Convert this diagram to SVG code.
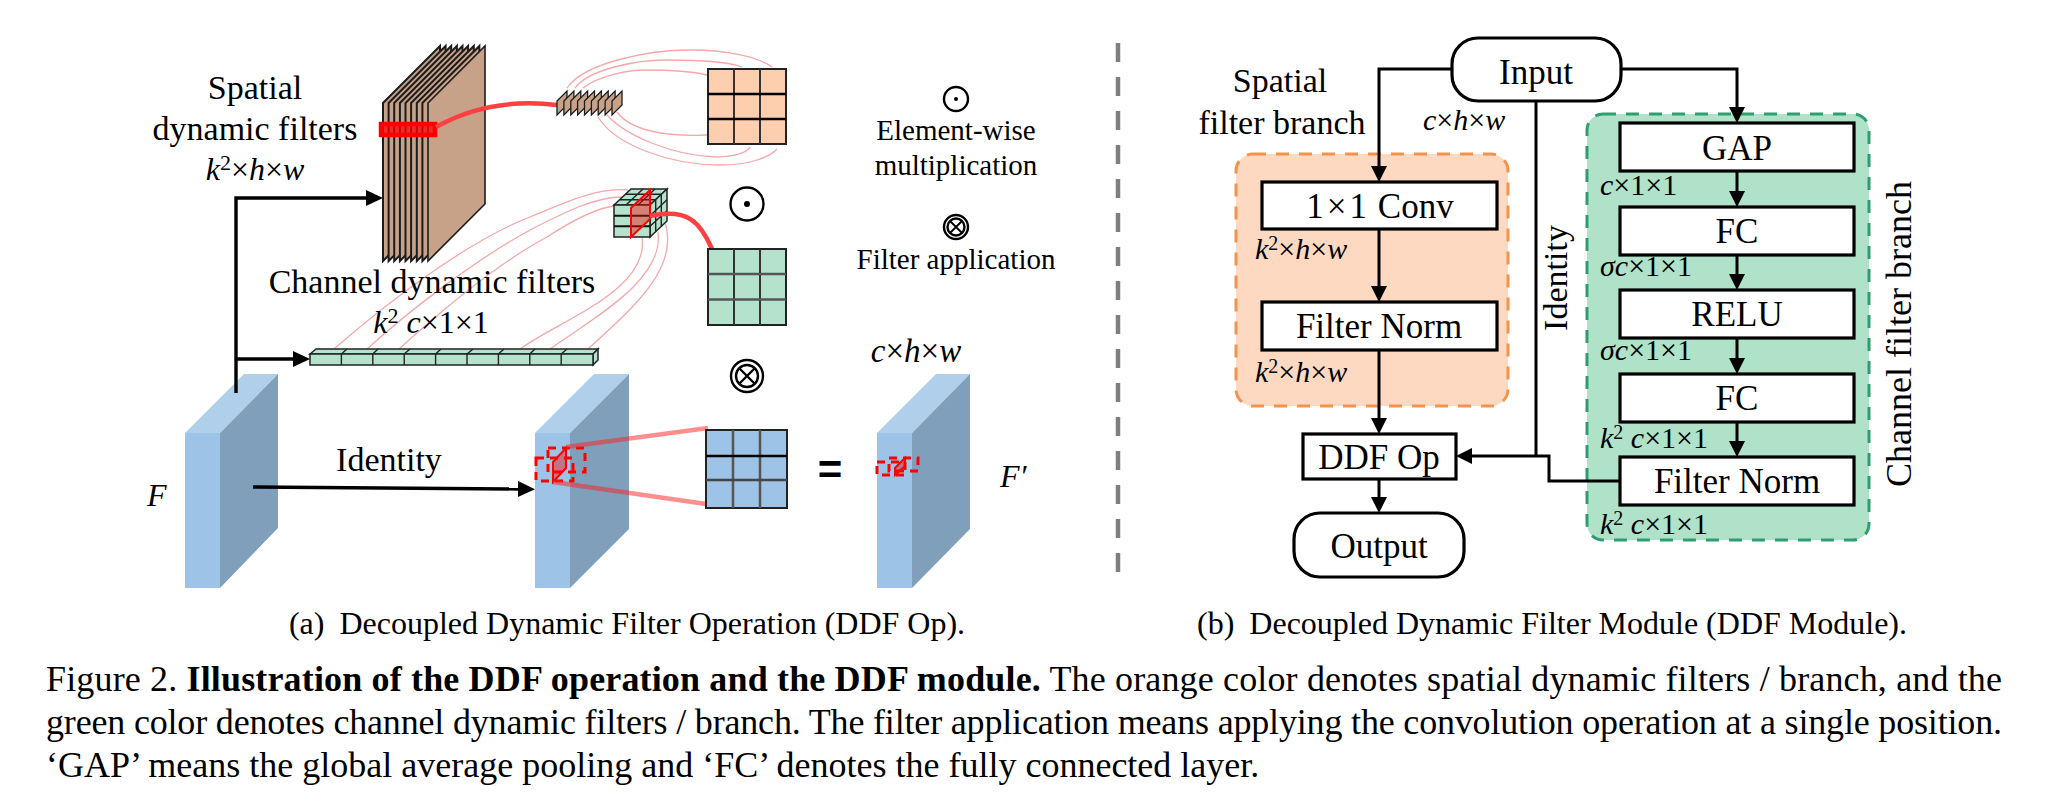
<svg xmlns="http://www.w3.org/2000/svg" width="2046" height="809" viewBox="0 0 2046 809">
<style>
text{font-family:"Liberation Serif","Times New Roman",serif;fill:#000}
.t34{font-size:34px}.t35{font-size:35px}.t36{font-size:36px}.t33{font-size:33px}.t32{font-size:32px}.t29{font-size:29px}.t30{font-size:30px}.cap{font-size:36px}
.m{text-anchor:middle}
.i{font-style:italic}
.b{font-weight:bold}
.sheet{fill:#c8a288;stroke:#1c1c1c;stroke-width:2;stroke-linejoin:miter}
.small{fill:#c8a288;stroke:#1c1c1c;stroke-width:1.3}
.pink{fill:none;stroke:#f4a8a8;stroke-width:1.3}
.redc{fill:none;stroke:#ff4040;stroke-width:4.5}
.wedge{stroke:#ff2020;stroke-opacity:.5;stroke-width:4.5;fill:none}
.bl-f{fill:#9dc3e6}.bl-t{fill:#b0cfeb}.bl-s{fill:#7f9fbb}
.gl{stroke:#333;stroke-width:2;fill:none}
.hl{stroke:#000;stroke-width:2.5}
.ggrid{fill:#b4e2cc;stroke:#222;stroke-width:2}
.ogrid{fill:#fdcfae;stroke:#222;stroke-width:2}
.bgrid{fill:#9dc3e6;stroke:#222;stroke-width:2}
.cell{fill:#b4e2cc;stroke:#222;stroke-width:1.5}
.thin{stroke:#222;stroke-width:1.4;fill:none}
.dash{fill:none;stroke:#ff0000;stroke-width:3;stroke-dasharray:8 6}
.plane{fill:#ff0000;fill-opacity:.42;stroke:#ff0000;stroke-width:2}
.ring{fill:none;stroke:#000;stroke-width:2.4}
.box{fill:#fff;stroke:#000;stroke-width:3.2}
.a3{fill:none;stroke:#000;stroke-width:3.4}
.b3{fill:none;stroke:#000;stroke-width:3}
</style>
<defs>
<marker id="hA" markerUnits="userSpaceOnUse" markerWidth="18" markerHeight="18" refX="0" refY="9" orient="auto" viewBox="0 0 18 18"><path d="M0,1 L17,9 L0,17 Z" fill="#000"/></marker>
<marker id="hB" markerUnits="userSpaceOnUse" markerWidth="17" markerHeight="18" refX="0" refY="9" orient="auto" viewBox="0 0 17 18"><path d="M0,1 L16,9 L0,17 Z" fill="#000"/></marker>
</defs>
<rect width="2046" height="809" fill="#fff"/>

<g id="pink-lines">
<path class="pink" d="M567,88 C585,62 650,50 690,50 C730,50 760,58 772,67"/>
<path class="pink" d="M575,88 C590,68 640,60 665,60 C700,60 730,62 742,67"/>
<path class="pink" d="M583,88 C600,75 630,70 645,70 C670,70 695,72 707,75"/>
<path class="pink" d="M617,112 C630,130 665,137 707,135"/>
<path class="pink" d="M607,115 C625,135 670,155 715,157 C735,157 748,152 750,147"/>
<path class="pink" d="M598,117 C615,145 670,165 720,165 C750,165 770,157 777,149"/>
<path class="pink" d="M334,349 C390,300 470,240 530,217 C570,200 600,187 628,190"/>
<path class="pink" d="M367,349 C410,310 475,260 530,230 C565,212 595,197 622,197"/>
<path class="pink" d="M399,349 C440,312 500,262 547,237 C570,222 595,208 615,206"/>
<path class="pink" d="M520,349 C560,320 650,290 642,237"/>
<path class="pink" d="M550,349 C590,320 665,280 658,232"/>
<path class="pink" d="M588,349 C630,310 680,270 665,222"/>
</g>

<g id="spatial-filters">
<polygon class="sheet" points="383,103 440,46 440,204 383,261"/>
<polygon class="sheet" points="388.6,103 445.6,46 445.6,204 388.6,261"/>
<polygon class="sheet" points="394.2,103 451.2,46 451.2,204 394.2,261"/>
<polygon class="sheet" points="399.9,103 456.9,46 456.9,204 399.9,261"/>
<polygon class="sheet" points="405.5,103 462.5,46 462.5,204 405.5,261"/>
<polygon class="sheet" points="411.1,103 468.1,46 468.1,204 411.1,261"/>
<polygon class="sheet" points="416.8,103 473.8,46 473.8,204 416.8,261"/>
<polygon class="sheet" points="422.4,103 479.4,46 479.4,204 422.4,261"/>
<polygon class="sheet" points="428,103 485,46 485,204 428,261" style="stroke-width:1.6"/>
<rect x="381" y="124" width="54" height="11" fill="#ff0000" fill-opacity=".75" stroke="#ff0000" stroke-width="4.5"/>
<path class="redc" d="M436,127 C475,105 515,100 557,105"/>
<polygon class="small" points="557,101 567,91 567,105 557,115"/>
<polygon class="small" points="563.9,101 573.9,91 573.9,105 563.9,115"/>
<polygon class="small" points="570.8,101 580.8,91 580.8,105 570.8,115"/>
<polygon class="small" points="577.6,101 587.6,91 587.6,105 577.6,115"/>
<polygon class="small" points="584.5,101 594.5,91 594.5,105 584.5,115"/>
<polygon class="small" points="591.4,101 601.4,91 601.4,105 591.4,115"/>
<polygon class="small" points="598.2,101 608.2,91 608.2,105 598.2,115"/>
<polygon class="small" points="605.1,101 615.1,91 615.1,105 605.1,115"/>
<polygon class="small" points="612,101 622,91 622,105 612,115"/>
</g>

<g id="orange-grid">
<rect class="ogrid" x="708" y="69" width="78" height="75"/>
<path class="gl" d="M734,69V144M760,69V144"/>
<path class="hl" d="M708,94H786M708,119H786"/>
</g>

<g id="cube">
<polygon class="cell" points="614,205 631,189 667,189 650,205"/>
<polygon class="cell" points="650,205 667,189 667,221 650,237"/>
<rect class="cell" x="614" y="205" width="36" height="32"/>
<path class="thin" d="M626,205L643,189M638,205L655,189M619.7,199.7H655.7M625.3,194.3H661.3M655.7,199.7V231.7M661.3,194.3V226.3M650,215.7L667,199.7M650,226.3L667,210.7"/>
<path d="M614,215.7H650M614,226.3H650" stroke="#111" stroke-width="2" fill="none"/>
<polygon class="plane" points="631,237 631,208 650,190 650,219"/>
<path class="redc" d="M650,216 C688,208 700,222 712,249"/>
</g>

<g id="green-grid">
<rect class="ggrid" x="708" y="249" width="78" height="76"/>
<path class="gl" d="M734,249V325M760,249V325"/>
<path d="M708,274H786M708,299.5H786" stroke="#555" stroke-width="2.5"/>
</g>

<g id="channel-bar">
<polygon class="cell" points="310,354 316,349 598,349 593,354"/>
<polygon class="cell" points="593,354 598,349 598,360 593,365"/>
<rect class="cell" x="310" y="354" width="283" height="11"/>
<path class="thin" d="M341.4,354V365M372.8,354V365M404.2,354V365M435.6,354V365M467,354V365M498.4,354V365M529.8,354V365M561.2,354V365M341.4,354L347,349M372.8,354L378,349M404.2,354L410,349M435.6,354L441,349M467,354L473,349M498.4,354L504,349M529.8,354L535,349M561.2,354L567,349"/>
</g>

<g id="feature-F">
<polygon class="bl-t" points="185,433 244,374 278,374 220,433"/>
<polygon class="bl-s" points="220,433 278,374 278,528 220,588"/>
<rect class="bl-f" x="185" y="433" width="35" height="155"/>
</g>
<g id="feature-mid">
<polygon class="bl-t" points="535,433 594,374 629,374 570,433"/>
<polygon class="bl-s" points="570,433 629,374 629,529 570,588"/>
<rect class="bl-f" x="535" y="433" width="35" height="155"/>
<rect class="dash" x="536" y="458" width="37" height="23"/>
<rect class="dash" x="548" y="448" width="37" height="24"/>
<polygon class="plane" points="553,482 553,462 566,448 566,468"/>
<path class="wedge" d="M566,447 L708,428"/>
<path class="wedge" d="M553,482 L720,506"/>
</g>
<g id="blue-grid">
<rect class="bgrid" x="706" y="430" width="81" height="78"/>
<path d="M733,430V508M760,430V508" stroke="#555" stroke-width="2.5"/>
<path class="hl" d="M706,456H787"/>
<path d="M706,480H787" stroke="#444" stroke-width="2.5"/>
</g>
<g id="feature-out">
<polygon class="bl-t" points="877,433 936,374 970,374 912,433"/>
<polygon class="bl-s" points="912,433 970,374 970,529 912,588"/>
<rect class="bl-f" x="877" y="433" width="35" height="155"/>
<rect class="dash" x="877" y="462" width="28" height="13"/>
<rect class="dash" x="889" y="458" width="29" height="13"/>
<polygon class="plane" points="895,475 895,468 905,458 905,466"/>
</g>

<g id="operators">
<circle class="ring" cx="747" cy="204" r="16.5"/><circle cx="747" cy="204" r="3"/>
<circle class="ring" cx="747" cy="376" r="16"/><circle class="ring" cx="747" cy="376" r="11"/>
<path class="ring" d="M739,368L755,384M755,368L739,384"/>
<circle class="ring" cx="956" cy="99" r="12"/><circle cx="956" cy="99" r="2"/>
<circle class="ring" cx="956" cy="227" r="12"/><circle class="ring" cx="956" cy="227" r="8.5"/>
<path class="ring" d="M950,221L962,233M962,221L950,233" style="stroke-width:1.8"/>
</g>

<g id="divider"><path d="M1118,43V575" stroke="#7f7f7f" stroke-width="4.5" stroke-dasharray="19 15" fill="none"/></g>

<g id="region-spatial"><rect x="1236" y="154" width="272" height="252" rx="17" fill="#fdd9c2" stroke="#f4934d" stroke-width="3" stroke-dasharray="13 10"/></g>
<g id="region-channel"><rect x="1587" y="114" width="282" height="426" rx="16" fill="#b0e2ca" stroke="#2f9e6e" stroke-width="3" stroke-dasharray="13 10"/></g>

<g id="connectors">
<path class="a3" d="M236,393V198H366" marker-end="url(#hA)"/>
<path class="a3" d="M236,359H293" marker-end="url(#hA)"/>
<path class="a3" d="M253,487L518,489" marker-end="url(#hA)"/>
<path class="b3" d="M1451,69H1379V166" marker-end="url(#hB)"/>
<path class="b3" d="M1621,69H1737V107" marker-end="url(#hB)"/>
<path class="b3" d="M1379,229V286" marker-end="url(#hB)"/>
<path class="b3" d="M1379,350V418" marker-end="url(#hB)"/>
<path class="b3" d="M1379,479V497" marker-end="url(#hB)"/>
<path class="b3" d="M1737,171V191" marker-end="url(#hB)"/>
<path class="b3" d="M1737,255V274" marker-end="url(#hB)"/>
<path class="b3" d="M1737,338V358" marker-end="url(#hB)"/>
<path class="b3" d="M1737,422V441" marker-end="url(#hB)"/>
<path class="b3" d="M1536,101V456"/>
<path class="b3" d="M1620,481H1549V456H1472" marker-end="url(#hB)"/>
</g>

<g id="node-input"><rect class="box" x="1452" y="38" width="169" height="63" rx="26"/><text class="t35 m" x="1536" y="84">Input</text></g>
<g id="node-conv"><rect class="box" x="1262" y="182" width="235" height="47"/><text class="t35 m" x="1380" y="218">1<tspan dx="3">×</tspan><tspan dx="3">1</tspan> <tspan dx="2">Conv</tspan></text></g>
<g id="node-fn1"><rect class="box" x="1262" y="302" width="235" height="48"/><text class="t35 m" x="1379" y="338">Filter Norm</text></g>
<g id="node-ddf"><rect class="box" x="1303" y="434" width="153" height="45"/><text class="t35 m" x="1379" y="469">DDF Op</text></g>
<g id="node-output"><rect class="box" x="1294" y="513" width="170" height="64" rx="26"/><text class="t35 m" x="1379" y="558">Output</text></g>
<g id="node-gap"><rect class="box" x="1620" y="123" width="234" height="48"/><text class="t35 m" x="1737" y="160">GAP</text></g>
<g id="node-fc1"><rect class="box" x="1620" y="207" width="234" height="48"/><text class="t35 m" x="1737" y="243">FC</text></g>
<g id="node-relu"><rect class="box" x="1620" y="290" width="234" height="48"/><text class="t35 m" x="1737" y="326">RELU</text></g>
<g id="node-fc2"><rect class="box" x="1620" y="374" width="234" height="48"/><text class="t35 m" x="1737" y="410">FC</text></g>
<g id="node-fn2"><rect class="box" x="1620" y="457" width="234" height="48"/><text class="t35 m" x="1737" y="493">Filter Norm</text></g>

<g id="labels">
<text class="t34 m" x="255" y="99">Spatial</text>
<text class="t34 m" x="255" y="140">dynamic filters</text>
<text class="t32 m" x="255" y="180"><tspan class="i">k</tspan><tspan font-size="22" dy="-10">2</tspan><tspan dy="10">×</tspan><tspan class="i">h</tspan>×<tspan class="i">w</tspan></text>
<text class="t34 m" x="432" y="293">Channel dynamic filters</text>
<text class="t32 m" x="431" y="333"><tspan class="i">k</tspan><tspan font-size="22" dy="-10">2</tspan><tspan dy="10" class="i"> c</tspan>×1×1</text>
<text class="t29 m" x="956" y="140">Element-wise</text>
<text class="t29 m" x="956" y="175">multiplication</text>
<text class="t29 m" x="956" y="269">Filter application</text>
<text class="t33 m" x="916" y="362"><tspan class="i">c</tspan>×<tspan class="i">h</tspan>×<tspan class="i">w</tspan></text>
<text class="t32 i" x="147" y="506">F</text>
<text class="t32 i" x="1000" y="487">F′</text>
<text class="t34 m" x="389" y="471">Identity</text>
<text class="b m" style="font-family:'Liberation Sans',sans-serif;font-size:42px" x="830" y="484">=</text>
<text class="t34 m" x="1280" y="92">Spatial</text>
<text class="t34 m" x="1282" y="134">filter branch</text>
<text class="t30" x="1423" y="130"><tspan class="i">c</tspan>×<tspan class="i">h</tspan>×<tspan class="i">w</tspan></text>
<text class="t30" x="1255" y="259"><tspan class="i">k</tspan><tspan font-size="20" dy="-9">2</tspan><tspan dy="9">×</tspan><tspan class="i">h</tspan>×<tspan class="i">w</tspan></text>
<text class="t30" x="1255" y="382"><tspan class="i">k</tspan><tspan font-size="20" dy="-9">2</tspan><tspan dy="9">×</tspan><tspan class="i">h</tspan>×<tspan class="i">w</tspan></text>
<text class="t30" x="1600" y="195"><tspan class="i">c</tspan>×1×1</text>
<text class="t30" x="1600" y="276"><tspan class="i">σc</tspan>×1×1</text>
<text class="t30" x="1600" y="360"><tspan class="i">σc</tspan>×1×1</text>
<text class="t30" x="1600" y="448"><tspan class="i">k</tspan><tspan font-size="20" dy="-9">2</tspan><tspan dy="9" class="i"> c</tspan>×1×1</text>
<text class="t30" x="1600" y="534"><tspan class="i">k</tspan><tspan font-size="20" dy="-9">2</tspan><tspan dy="9" class="i"> c</tspan>×1×1</text>
<text class="t34 m" transform="translate(1567,278) rotate(-90)">Identity</text>
<text class="t36 m" transform="translate(1911,334) rotate(-90)">Channel filter branch</text>
<text class="t32 m" x="627" y="634">(a) <tspan dx="7">Decoupled Dynamic Filter Operation (DDF Op).</tspan></text>
<text class="t32 m" x="1552" y="634">(b) <tspan dx="7">Decoupled Dynamic Filter Module (DDF Module).</tspan></text>
</g>
<g id="caption">
<text class="cap" x="46" y="691" textLength="1956" lengthAdjust="spacing">Figure 2. <tspan class="b">Illustration of the DDF operation and the DDF module.</tspan> The orange color denotes spatial dynamic filters / branch, and the</text>
<text class="cap" x="46" y="734" textLength="1956" lengthAdjust="spacing">green color denotes channel dynamic filters / branch. The filter application means applying the convolution operation at a single position.</text>
<text class="cap" x="46" y="777">‘GAP’ means the global average pooling and ‘FC’ denotes the fully connected layer.</text>
</g>
</svg>
